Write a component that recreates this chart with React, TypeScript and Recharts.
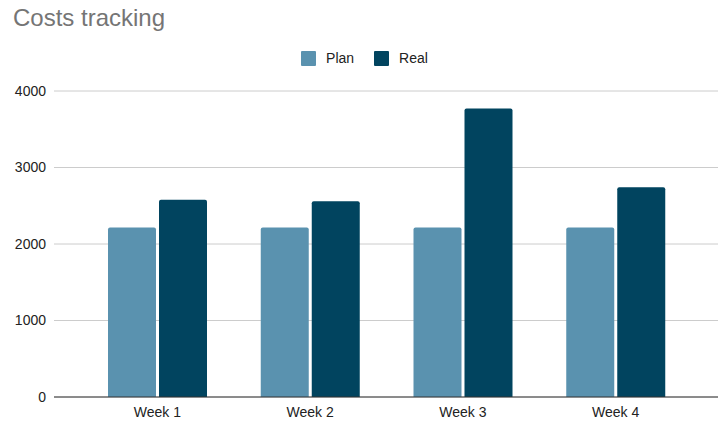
import React from 'react';
import { BarChart, Bar, XAxis, YAxis, CartesianGrid } from 'recharts';

const weeks = ['Week 1', 'Week 2', 'Week 3', 'Week 4'];
const planValues = [2215, 2215, 2215, 2215];
const realValues = [2578, 2560, 3772, 2742];
const yTicks = [0, 1000, 2000, 3000, 4000];

const SERIES = [
  { key: 'plan', name: 'Plan', color: '#5a92af' },
  { key: 'real', name: 'Real', color: '#01445f' },
];

const FONT = 'Arial, "Liberation Sans", sans-serif';

export default function App() {
  const data = weeks.map((week, i) => ({
    week,
    plan: planValues[i],
    real: realValues[i],
  }));

  return (
    <div style={{ position: 'absolute', top: 0, left: 0, width: 727, height: 441, background: '#fff', fontFamily: FONT }}>
      <div style={{ position: 'absolute', left: 13, top: 4, fontSize: 24, color: '#757575' }}>
        Costs tracking
      </div>
      <div style={{ position: 'absolute', top: 50, left: 1, width: 727, display: 'flex', justifyContent: 'center', fontSize: 14, color: '#222' }}>
        {SERIES.map((s) => (
          <div key={s.key} style={{ display: 'flex', alignItems: 'center', marginRight: s.key === 'plan' ? 20 : 0 }}>
            <span style={{ width: 15, height: 15, background: s.color, borderRadius: 1, marginRight: 10, display: 'inline-block' }} />
            <span>{s.name}</span>
          </div>
        ))}
      </div>
      <BarChart
        width={727}
        height={441}
        data={data}
        margin={{ top: 91, right: 9, bottom: 14, left: 0 }}
        barCategoryGap={27}
        barGap={3}
      >
        <CartesianGrid vertical={false} stroke="#cccccc" />
        <XAxis
          dataKey="week"
          padding={{ left: 27, right: 26 }}
          tickLine={false}
          axisLine={{ stroke: '#333333' }}
          tick={{ fill: '#222', fontSize: 14, fontFamily: FONT }}
          tickMargin={4}
        />
        <YAxis
          width={54}
          domain={[0, 4000]}
          ticks={yTicks}
          tickLine={false}
          axisLine={false}
          tick={{ fill: '#222', fontSize: 14, fontFamily: FONT }}
        />
        {SERIES.map((s) => (
          <Bar
            key={s.key}
            dataKey={s.key}
            name={s.name}
            fill={s.color}
            radius={[2, 2, 0, 0]}
            isAnimationActive={false}
          />
        ))}
      </BarChart>
    </div>
  );
}
